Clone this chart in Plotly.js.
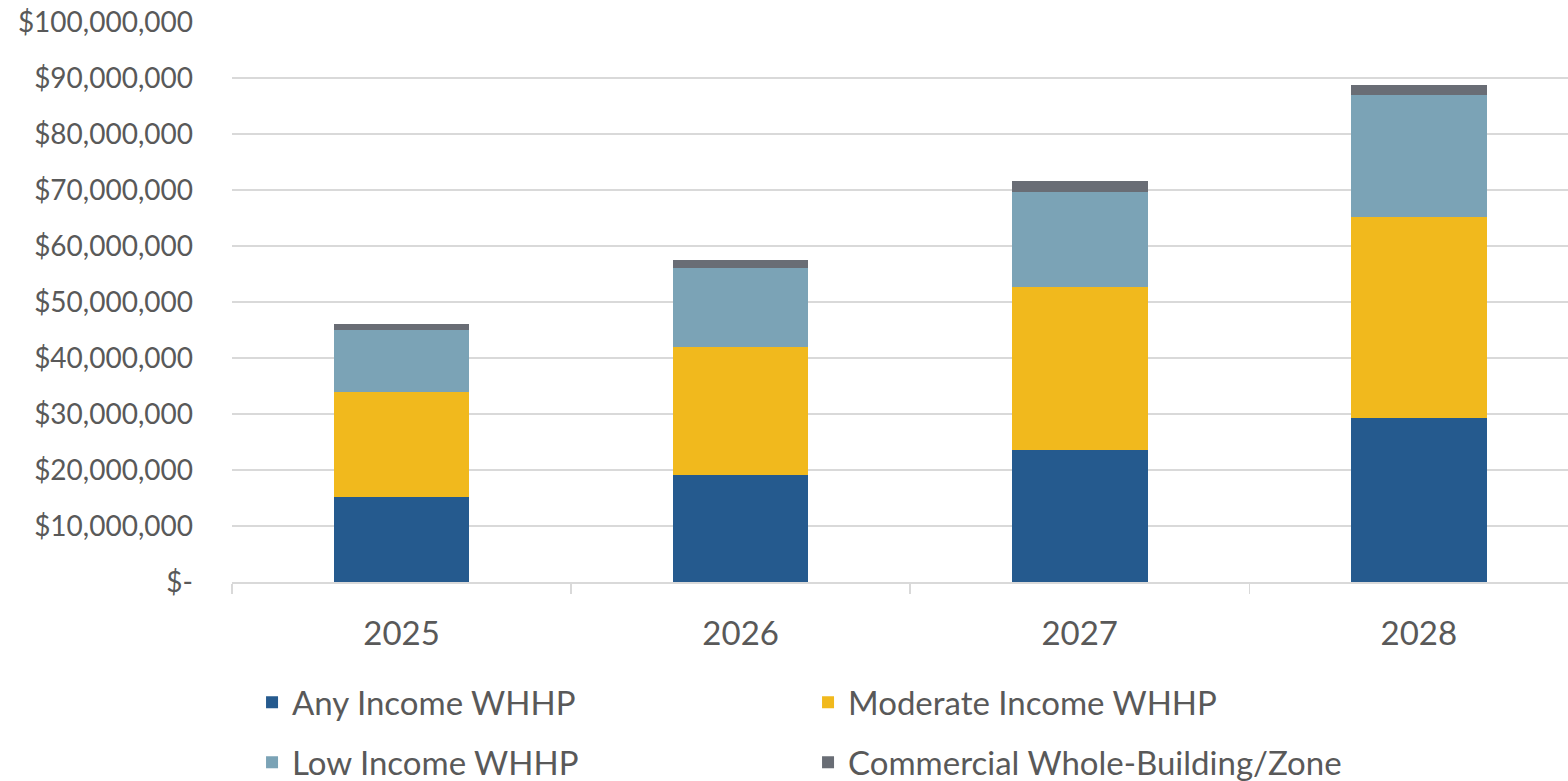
<!DOCTYPE html>
<html>
<head>
<meta charset="utf-8">
<script src="https://cdn.plot.ly/plotly-3.0.1.min.js"></script>
<style>html,body{margin:0;padding:0;background:#fff;}#chart{width:1568px;height:781px;}</style>
</head>
<body>
<div id="chart"></div>
<script>
const years = ["2025", "2026", "2027", "2028"];
const anyIncome = [15.2e6, 19.05e6, 23.6e6, 29.35e6];
const moderateIncome = [18.7e6, 22.85e6, 29.0e6, 35.85e6];
const lowIncome = [11.05e6, 14.1e6, 17.1e6, 21.8e6];
const commercial = [1.1e6, 1.5e6, 1.85e6, 1.75e6];
const yTickVals = [0, 10e6, 20e6, 30e6, 40e6, 50e6, 60e6, 70e6, 80e6, 90e6, 100e6];
const yTickText = ["$-", "$10,000,000", "$20,000,000", "$30,000,000", "$40,000,000", "$50,000,000", "$60,000,000", "$70,000,000", "$80,000,000", "$90,000,000", "$100,000,000"];

const FONT = "Lato, 'Open Sans', sans-serif";
const TXT = "#595959";

function bar(name, vals, color, legend) {
  return {type: "bar", name: name, x: years, y: vals, width: 0.4,
    marker: {color: color, line: {width: 0}}, legend: legend, hoverinfo: "y+name"};
}
const data = [
  bar("Any Income WHHP", anyIncome, "#255A8E", "legend"),
  bar("Moderate Income WHHP", moderateIncome, "#F1B91D", "legend"),
  bar("Low Income WHHP", lowIncome, "#7BA3B6", "legend2"),
  bar("Commercial Whole-Building/Zone", commercial, "#696D75", "legend2")
];
const legendBase = {orientation: "h", xanchor: "left", yanchor: "middle", x: 0.015,
  entrywidth: 511, entrywidthmode: "pixels", traceorder: "normal",
  font: {family: FONT, size: 33, color: TXT}, bgcolor: "rgba(0,0,0,0)"};
const layout = {
  width: 1568, height: 781,
  margin: {l: 232, r: 0, t: 22, b: 199, pad: 0, autoexpand: false},
  paper_bgcolor: "#fff", plot_bgcolor: "#fff",
  barmode: "stack",
  showlegend: true,
  xaxis: {type: "category", range: [-0.5, 3.44], showgrid: false, zeroline: false,
    showline: true, linecolor: "#D9D9D9", linewidth: 1.5,
    ticks: "outside", tickson: "boundaries", ticklen: 10, tickcolor: "#D9D9D9", tickwidth: 1.5,
    ticklabelstandoff: 22,
    tickfont: {family: FONT, size: 33, color: TXT}},
  yaxis: {range: [0, 100e6], tickvals: yTickVals, ticktext: yTickText,
    showgrid: true, gridcolor: "#D9D9D9", gridwidth: 1.5, zeroline: false, showline: false,
    ticks: "", ticklabelstandoff: 38,
    tickfont: {family: FONT, size: 28, color: TXT}},
  legend: Object.assign({}, legendBase, {y: -0.215}),
  legend2: Object.assign({}, legendBase, {y: -0.322})
};
Plotly.newPlot("chart", data, layout, {displayModeBar: false, staticPlot: true});
</script>
</body>
</html>
